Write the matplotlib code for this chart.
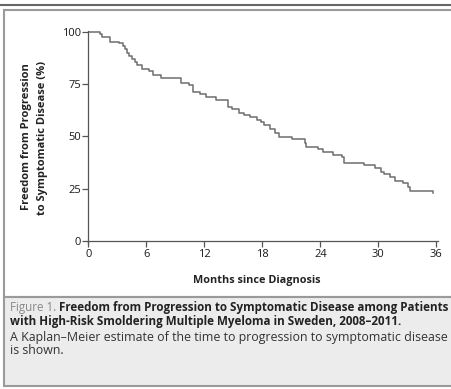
import matplotlib
matplotlib.use('Agg')
import matplotlib.pyplot as plt
from matplotlib.patches import Rectangle
from matplotlib.lines import Line2D

# ---------------- data ----------------
months = [0, 1.2, 1.4, 2.2, 3.2, 3.6, 3.8, 4.0, 4.2, 4.5, 4.8, 5.0, 5.5, 6.3, 6.7, 7.5,
          9.6, 10.4, 10.8, 11.5, 12.2, 13.2, 14.4, 14.9, 15.6, 16.1, 16.7, 17.4, 17.9,
          18.2, 18.8, 19.3, 19.7, 21.1, 22.4, 22.5, 23.8, 24.3, 25.3, 26.2, 26.5, 28.5,
          29.7, 30.3, 30.6, 31.2, 31.7, 32.6, 33.1, 33.3, 35.7]
freedom = [100, 99.0, 97.4, 95.3, 94.8, 93.2, 91.8, 90.0, 88.6, 87.2, 85.7, 84.2, 82.1,
           81.4, 79.4, 77.8, 75.7, 74.4, 71.4, 70.3, 69.0, 67.4, 63.9, 62.9, 61.3, 60.2,
           59.1, 57.8, 57.0, 55.5, 53.4, 51.8, 49.9, 48.6, 47.0, 45.1, 43.8, 42.4, 41.2,
           40.0, 37.4, 36.2, 34.7, 33.1, 32.0, 30.4, 28.8, 27.6, 25.9, 24.0, 22.8]
xticks = [0, 6, 12, 18, 24, 30, 36]
yticks = [0, 25, 50, 75, 100]

W, H = 452, 389
FONT = ['Open Sans', 'DejaVu Sans']
plt.rcParams['font.family'] = FONT


def fx(px):
    return px / W


def fy(py):
    return 1 - py / H


fig = plt.figure(figsize=(W / 100, H / 100), dpi=100)
fig.patch.set_facecolor('white')

# --------------- frame -----------------
fig.add_artist(Line2D([0, 1], [fy(5), fy(5)], transform=fig.transFigure,
                      color='#666666', lw=1.5, zorder=-2))
fig.add_artist(Rectangle((fx(4), fy(297)), 1, fy(10) - fy(297), transform=fig.transFigure,
                         facecolor='white', edgecolor='#9a9a9a', lw=1.5, zorder=-2))
fig.add_artist(Rectangle((fx(4), fy(386)), 1, fy(297) - fy(386), transform=fig.transFigure,
                         facecolor='#ececec', edgecolor='#9a9a9a', lw=1.5, zorder=-2))

# --------------- plot ------------------
ax = fig.add_axes([fx(88.5), fy(243), fx(437.7) - fx(88.5), fy(31.1) - fy(243)])
ax.set_facecolor('none')
ax.plot(months, freedom, drawstyle='steps-post', color='#6e6e6e', lw=1.1)
ax.set_xlim(0, 36.15)
ax.set_ylim(-1, 100.3)
ax.spines['top'].set_visible(False)
ax.spines['right'].set_visible(False)
ax.spines['bottom'].set_position(('data', 0))
for s in ('left', 'bottom'):
    ax.spines[s].set_color('#555555')
    ax.spines[s].set_linewidth(0.9)
ax.set_xticks(xticks)
ax.set_yticks(yticks)
ax.tick_params(colors='#555555', labelcolor='#1a1a1a', labelsize=8, length=4, width=0.9)
ax.tick_params(axis='x', pad=2)
ax.tick_params(axis='y', pad=1.5)

fig.text(fx(27), fy(137), 'Freedom from Progression', rotation=90, ha='center', va='center',
         fontsize=8.0, fontweight='bold', color='#222222')
fig.text(fx(43), fy(138), 'to Symptomatic Disease (%)', rotation=90, ha='center', va='center',
         fontsize=8.0, fontweight='bold', color='#222222')
fig.text(fx(257), fy(281), 'Months since Diagnosis', ha='center', va='center',
         fontsize=7.8, fontweight='bold', color='#222222')

# --------------- caption ---------------
t1 = fig.text(fx(10), fy(307.5), 'Figure 1. ', ha='left', va='center', fontsize=8.35,
              color='#8a8a8a')
fig.canvas.draw()
bb = t1.get_window_extent()
fig.text(bb.x1 / W, fy(307.5), 'Freedom from Progression to Symptomatic Disease among Patients',
         ha='left', va='center', fontsize=8.35, fontweight='bold', color='#222222')
fig.text(fx(10), fy(321), 'with High-Risk Smoldering Multiple Myeloma in Sweden, 2008\u20132011.',
         ha='left', va='center', fontsize=8.35, fontweight='bold', color='#222222')
fig.text(fx(10), fy(337.5), 'A Kaplan\u2013Meier estimate of the time to progression to symptomatic disease',
         ha='left', va='center', fontsize=8.9, color='#333333')
fig.text(fx(10), fy(350), 'is shown.', ha='left', va='center', fontsize=8.9, color='#333333')

fig.savefig('out.png', dpi=100)
